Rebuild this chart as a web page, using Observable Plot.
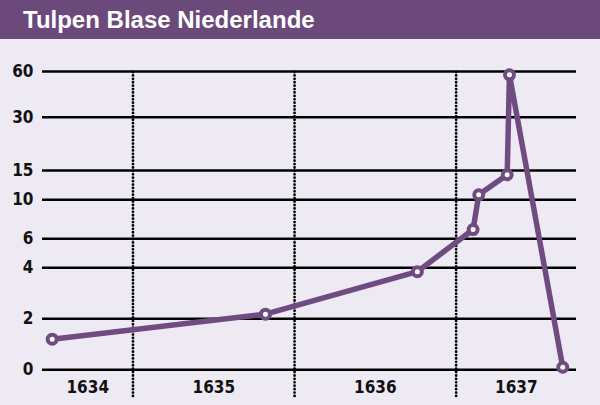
<!DOCTYPE html>
<html>
<head>
<meta charset="utf-8">
<script src="https://cdn.jsdelivr.net/npm/d3@7"></script>
<script src="https://cdn.jsdelivr.net/npm/@observablehq/plot@0.6"></script>
<style>
  html, body { margin: 0; padding: 0; background: #eeeaf4; }
  #wrap { width: 600px; height: 405px; background: #eeeaf4; overflow: hidden; }
  #title {
    height: 39px; line-height: 39px; background: #6b4a7b; color: #fff;
    font-family: "Liberation Sans", Arial, sans-serif; font-weight: bold; font-size: 24px;
    padding-left: 23px; box-sizing: border-box;
  }
  svg { display: block; }
</style>
</head>
<body>
<div id="wrap">
  <div id="title">Tulpen Blase Niederlande</div>
  <div id="chart"></div>
</div>
<script>
// Data
const years = [1634, 1635, 1636, 1637];
const yTicks = [0, 2, 4, 6, 10, 15, 30, 60];
const dates = [1634.50, 1635.82, 1636.76, 1637.105, 1637.14, 1637.316, 1637.33, 1637.66];
const prices = [1.2, 2.18, 3.85, 6.95, 10.85, 14.27, 57.8, 0.1];

// Scale configuration (pixel positions of the uneven y tick levels)
const yRange = [330.3, 279.3, 228.3, 199.3, 160.3, 131, 77.7, 32];
const xDomain = [1634.44, 1637.745];

const points = dates.map((d, i) => ({date: d, price: prices[i]}));
const labels = years.map(y => ({
  year: y,
  mid: (Math.max(y, xDomain[0]) + Math.min(y + 1, xDomain[1])) / 2
}));

const purple = "#6e4c80";
const tickFont = '"Liberation Sans Narrow", "DejaVu Sans Condensed", "Open Sans", sans-serif';

const chart = Plot.plot({
  width: 600,
  height: 366,
  marginLeft: 42,
  marginRight: 24,
  marginTop: 33,
  marginBottom: 8,
  style: {background: "#eeeaf4", fontFamily: tickFont, overflow: "visible"},
  x: {type: "linear", domain: xDomain, axis: null},
  y: {type: "linear", domain: yTicks, range: yRange, axis: null},
  marks: [
    Plot.ruleY(yTicks, {stroke: "#000", strokeWidth: 2.6}),
    Plot.ruleX(years.slice(1), {stroke: "#000", strokeWidth: 2.8, strokeDasharray: "0.01 3.4", strokeLinecap: "round", shapeRendering: "geometricPrecision"}),
    Plot.axisY({ticks: yTicks, tickSize: 0, tickPadding: 9, label: null, fontSize: 17, fontWeight: "bold", fill: "#111"}),
    Plot.text(labels, {x: "mid", y: () => 0, dy: 18, text: d => String(d.year), fontSize: 17, fontWeight: "bold", fill: "#111"}),
    Plot.line(points, {x: "date", y: "price", stroke: purple, strokeWidth: 5.5, strokeLinejoin: "round", strokeLinecap: "round"}),
    Plot.dot(points, {x: "date", y: "price", r: 4.5, fill: "#fff", stroke: purple, strokeWidth: 4})
  ]
});
document.getElementById("chart").appendChild(chart);
</script>
</body>
</html>
